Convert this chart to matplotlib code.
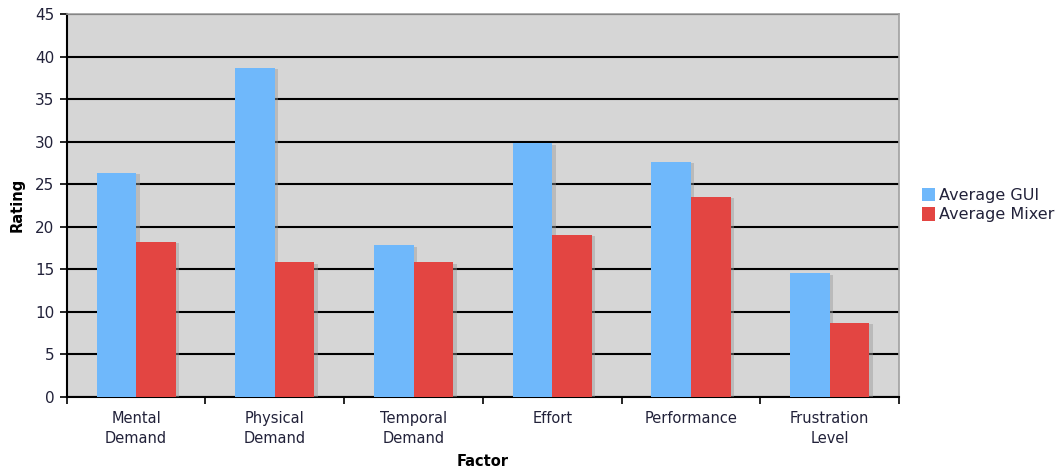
import matplotlib.pyplot as plt
import matplotlib.patheffects as pe
import numpy as np

factors = ['Mental\nDemand', 'Physical\nDemand', 'Temporal\nDemand',
           'Effort', 'Performance', 'Frustration\nLevel']
avg_gui = [26.3, 38.7, 17.8, 29.8, 27.6, 14.5]
avg_mixer = [18.2, 15.8, 15.8, 19.0, 23.5, 8.7]

gui_color = '#6fb8fb'
mixer_color = '#e34542'
label_color = '#22223a'

fig = plt.figure(figsize=(10.59, 4.75), dpi=100)
ax = fig.add_axes([0.063, 0.165, 0.786, 0.8055])
ax.set_facecolor('#d6d6d6')

x = np.arange(len(factors))
w = 0.285
b1 = ax.bar(x - w / 2, avg_gui, w, color=gui_color, label='Average GUI', zorder=3)
b2 = ax.bar(x + w / 2, avg_mixer, w, color=mixer_color, label='Average Mixer', zorder=3)

ax.set_xlim(-0.5, len(factors) - 0.5)
ax.set_ylim(0, 45)
ax.set_yticks(range(0, 46, 5))
ax.yaxis.grid(True, color='black', linewidth=1.5, zorder=1)
ax.set_axisbelow(True)

# category labels sit between the boundary ticks
ax.set_xticks(x)
ax.set_xticklabels(factors, color=label_color, fontsize=10.5, linespacing=1.45)
ax.tick_params(axis='x', length=0, pad=10)
ax.set_xticks(np.arange(len(factors) + 1) - 0.5, minor=True)
ax.tick_params(axis='x', which='minor', length=5, width=1.2, color='black')
ax.tick_params(axis='y', length=5, width=1.2, colors='black', labelcolor=label_color,
               labelsize=11, pad=4)

for side in ['top', 'right']:
    ax.spines[side].set_color('#a0a0a0')
    ax.spines[side].set_linewidth(1.2)
for side in ['left', 'bottom']:
    ax.spines[side].set_color('black')
    ax.spines[side].set_linewidth(1.5)

ax.set_ylabel('Rating', fontsize=10.5, fontweight='bold', labelpad=7)
ax.set_xlabel('Factor', fontsize=10.5, fontweight='bold', labelpad=6)

leg = ax.legend(loc='center left', bbox_to_anchor=(1.01, 0.50), frameon=False,
                fontsize=11.5, handlelength=0.8, handleheight=0.9, handletextpad=0.3,
                labelspacing=0.25)
for t in leg.get_texts():
    t.set_color(label_color)

# soft drop shadow to the right of each bar
shadow = [pe.SimplePatchShadow(offset=(2.5, -1), shadow_rgbFace='#9a9a9a', alpha=0.45), pe.Normal()]
for bar in list(b1) + list(b2):
    bar.set_path_effects(shadow)

fig.savefig('out.png', dpi=100)
